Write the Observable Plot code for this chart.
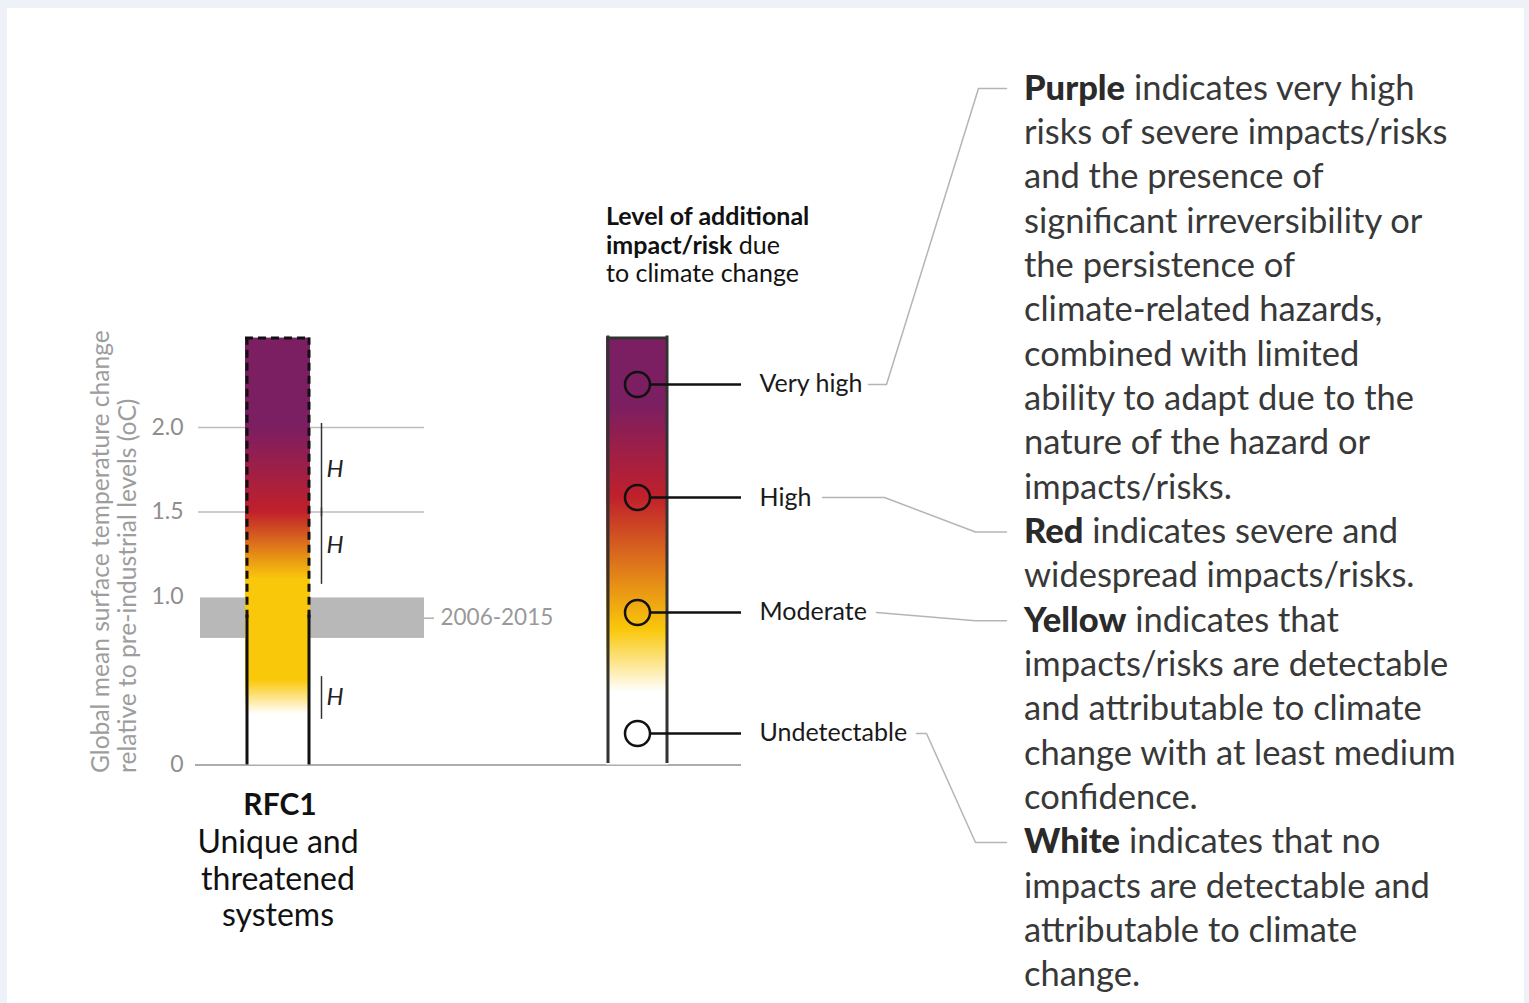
<!DOCTYPE html>
<html>
<head>
<meta charset="utf-8">
<script src="https://cdn.jsdelivr.net/npm/d3@7"></script>
<script src="https://cdn.jsdelivr.net/npm/@observablehq/plot@0.6"></script>
<style>
  html, body { margin: 0; padding: 0; background: #eef2f8; }
  body { width: 1529px; height: 1003px; position: relative; overflow: hidden; font-family: Lato, "Noto Sans", sans-serif; }
  #panel { position: absolute; left: 7px; top: 8px; width: 1517px; height: 1000px; background: #fff; }
  #chart { position: absolute; left: 0; top: 0; }
  #legend-title { position: absolute; left: 606px; top: 201px; font-size: 25px; line-height: 28.5px; color: #111; white-space: nowrap; }
  #notes { position: absolute; left: 1024px; top: 64.5px; font-size: 34.5px; line-height: 44.35px; color: #383838; white-space: nowrap; }
  #notes b { font-weight: 900; color: #2a2a2a; }
  #legend-title b { font-weight: 700; color: #111; }
</style>
</head>
<body>
<div id="panel"></div>
<div id="chart"></div>
<div id="legend-title"></div>
<div id="notes"></div>
<script>
// Temperature axis (°C above pre-industrial)
const tempTicks = [0, 1.0, 1.5, 2.0];
const tickLabels = ["0", "1.0", "1.5", "2.0"];
const gridLevels = [1.5, 2.0];
const barTop = 2.53;

// Observed warming 2006-2015
const periodLabel = "2006-2015";
const periodLow = 0.75;
const periodHigh = 0.99;
const periodMean = 0.87;

// RFC1: risk transitions (start, end, confidence)
const rfcName = "Unique and\nthreatened\nsystems";
const transitionStart = [0.3, 1.1, 1.5];
const transitionEnd = [0.5, 1.5, 2.0];
const transitionConfidence = ["H", "H", "H"];

// Risk level colours, lowest to highest
const riskColors = ["#ffffff", "#fac80b", "#c0202b", "#7c1e62"];

// Key: risk levels and where they sit on the key bar
const levelNames = ["Undetectable", "Moderate", "High", "Very high"];
const levelPos = [0.187, 0.904, 1.585, 2.255];
const keyStopPos = [0.43, 0.8, 1.585, 2.13];

// Explanatory notes with their wrapped lines
const noteLines = [
  ["<b>Purple</b> indicates very high", "risks of severe impacts/risks", "and the presence of",
   "significant irreversibility or", "the persistence of", "climate-related hazards,",
   "combined with limited", "ability to adapt due to the", "nature of the hazard or", "impacts/risks."],
  ["<b>Red</b> indicates severe and", "widespread impacts/risks."],
  ["<b>Yellow</b> indicates that", "impacts/risks are detectable", "and attributable to climate",
   "change with at least medium", "confidence."],
  ["<b>White</b> indicates that no", "impacts are detectable and", "attributable to climate", "change."]
];
// which note each level points to (index into noteLines)
const levelNote = [3, 2, 1, 0];

// ---- layout (pixels) ----
const L = {
  width: 1529, height: 1003,
  y0: 764.5, y2: 427,
  gridX: [198, 424], baseX: [195, 741],
  band: [200, 424], periodTick: [424, 434], periodText: 440,
  tickText: 183,
  rfcBar: [245, 310], rfcSides: [246.5, 308.5],
  bracketX: 321, hX: 326,
  keyBar: [606, 668], keySides: [607.5, 666.5],
  dotX: 637, connector: [650, 741], levelText: 759,
  axisTitleX: 113,
  notesTop: 64.5, noteLineH: 44.35,
  // leader routes: label end x, elbow x, note elbow x per level
  leaderStart: [916, 876, 822, 868],
  leaderElbow: [926, 876, 884, 886],
  leaderNoteElbow: [975, 975, 975, 978],
  leaderEnd: 1006
};

const y = Plot.scale({y: {domain: [0, 2], range: [L.y0, L.y2]}});

const transitions = transitionStart.map((s, i) => ({
  start: s, end: transitionEnd[i], mid: (s + transitionEnd[i]) / 2, conf: transitionConfidence[i]
}));

const levels = levelNames.map((name, i) => ({name, pos: levelPos[i]}));

// first-line index of each note in the stacked text block
const noteStartLine = [];
noteLines.reduce((acc, lines, i) => { noteStartLine[i] = acc; return acc + lines.length; }, 0);
const noteCenterY = i => L.notesTop + 23.5 + noteStartLine[i] * L.noteLineH;

const leaders = levels.flatMap((lv, i) => {
  const ny = y.invert(noteCenterY(levelNote[i]));
  return [
    {level: lv.name, x: L.leaderStart[i], y: lv.pos},
    {level: lv.name, x: L.leaderElbow[i], y: lv.pos},
    {level: lv.name, x: L.leaderNoteElbow[i], y: ny},
    {level: lv.name, x: L.leaderEnd, y: ny}
  ];
});

const dash = "8,5";

const plot = Plot.plot({
  width: L.width,
  height: L.height,
  margin: 0,
  x: {type: "linear", domain: [0, L.width], range: [0, L.width], axis: null},
  y: {domain: [0, 2], range: [L.y0, L.y2], axis: null},
  style: {background: "transparent", fontFamily: "Lato, 'Noto Sans', sans-serif", overflow: "visible"},
  marks: [
    // grid lines and baseline
    Plot.ruleY(gridLevels, {y: d => d, x1: L.gridX[0], x2: L.gridX[1], stroke: "#bdbdbd", strokeWidth: 1.5}),
    Plot.ruleY([0], {y: d => d, x1: L.baseX[0], x2: L.baseX[1], stroke: "#adadad", strokeWidth: 2}),
    // observed warming band
    Plot.rect([{lo: periodLow, hi: periodHigh}], {x1: L.band[0], x2: L.band[1], y1: "lo", y2: "hi", fill: "#b8b8b8"}),
    Plot.ruleY([periodMean], {y: d => d, x1: L.periodTick[0], x2: L.periodTick[1], stroke: "#b0b0b0", strokeWidth: 1.5}),
    Plot.text([periodLabel], {x: L.periodText, y: periodMean, text: d => d, textAnchor: "start", fill: "#999", fontSize: 22.5}),
    // tick labels
    Plot.text(tempTicks, {x: L.tickText, y: d => d, text: (d, i) => tickLabels[i], textAnchor: "end", fill: "#8e8e8e", fontSize: 23}),
    // RFC1 bar
    Plot.rect([barTop], {x1: L.rfcBar[0], x2: L.rfcBar[1], y1: 0, y2: d => d, fill: "url(#rfc1-gradient)"}),
    Plot.ruleX(L.rfcSides, {x: d => d, y1: 0, y2: periodMean, insetBottom: 3, stroke: "#111", strokeWidth: 3}),
    Plot.ruleX(L.rfcSides, {x: d => d, y1: periodMean, y2: barTop, stroke: "#111", strokeWidth: 3, strokeDasharray: dash}),
    Plot.ruleY([barTop], {y: d => d, x1: L.rfcBar[0], x2: L.rfcBar[1], stroke: "#111", strokeWidth: 3, strokeDasharray: dash}),
    // confidence brackets
    Plot.ruleX(transitions, {x: L.bracketX, y1: "start", y2: "end", insetTop: 5, insetBottom: 4, stroke: "#333", strokeWidth: 1.5}),
    Plot.text(transitions, {x: L.hX, y: "mid", text: "conf", textAnchor: "start", fontStyle: "italic", fontSize: 24, fill: "#222"}),
    // key bar
    Plot.rect([barTop], {x1: L.keyBar[0], x2: L.keyBar[1], y1: 0, y2: d => d, fill: "url(#key-gradient)"}),
    Plot.ruleX(L.keySides, {x: d => d, y1: 0, y2: barTop, insetBottom: 2, insetTop: -1.5, stroke: "#333", strokeWidth: 3}),
    Plot.ruleY([barTop], {y: d => d, x1: L.keyBar[0], x2: L.keyBar[1], stroke: "#333", strokeWidth: 3}),
    Plot.ruleY(levels, {y: "pos", x1: L.connector[0], x2: L.connector[1], stroke: "#111", strokeWidth: 2.5}),
    Plot.dot(levels, {x: L.dotX, y: "pos", r: 12.5, stroke: "#111", strokeWidth: 2.5, fill: "none"}),
    Plot.text(levels, {x: L.levelText, y: "pos", text: "name", textAnchor: "start", fontSize: 25, fill: "#1a1a1a"}),
    // leaders to notes
    Plot.line(leaders, {x: "x", y: "y", z: "level", stroke: "#b5b5b5", strokeWidth: 1.5}),
    // axis title
    Plot.text(["Global mean surface temperature change\nrelative to pre-industrial levels (oC)"], {
      x: L.axisTitleX, y: 0, dy: 8, text: d => d, rotate: -90, textAnchor: "start", lineAnchor: "middle",
      lineHeight: 1.1, fill: "#9d9d9d", fontSize: 24.6
    }),
    // RFC1 label
    Plot.text(["RFC1"], {x: (L.rfcBar[0] + L.rfcBar[1]) / 2 + 2, y: 0, dy: 40, text: d => d, fontWeight: "bold", fontSize: 30, fill: "#111"}),
    Plot.text([rfcName], {x: (L.rfcBar[0] + L.rfcBar[1]) / 2, y: 0, dy: 113, text: d => d, lineAnchor: "middle", lineHeight: 1.13, fontSize: 32, fill: "#111"})
  ]
});

// gradients for the two bars, positioned through the y scale
function addGradient(svg, id, stops) {
  const ns = "http://www.w3.org/2000/svg";
  const ys = plot.scale("y");
  let defs = svg.querySelector("defs");
  if (!defs) { defs = document.createElementNS(ns, "defs"); svg.insertBefore(defs, svg.firstChild); }
  const g = document.createElementNS(ns, "linearGradient");
  g.setAttribute("id", id);
  g.setAttribute("gradientUnits", "userSpaceOnUse");
  g.setAttribute("x1", 0); g.setAttribute("x2", 0);
  g.setAttribute("y1", ys.apply(0)); g.setAttribute("y2", ys.apply(barTop));
  for (const s of stops) {
    const st = document.createElementNS(ns, "stop");
    st.setAttribute("offset", s.pos / barTop);
    st.setAttribute("stop-color", s.color);
    g.appendChild(st);
  }
  defs.appendChild(g);
}

const rfcStops = transitions.flatMap((t, i) => [
  {pos: t.start, color: riskColors[i]},
  {pos: t.end, color: riskColors[i + 1]}
]);
const keyStops = keyStopPos.map((p, i) => ({pos: p, color: riskColors[i]}));

addGradient(plot, "rfc1-gradient", rfcStops);
addGradient(plot, "key-gradient", keyStops);

document.getElementById("chart").appendChild(plot);

document.getElementById("legend-title").innerHTML =
  "<b>Level of additional</b><br><b>impact/risk</b> due<br>to climate change";
document.getElementById("notes").innerHTML = noteLines.map(lines => lines.join("<br>")).join("<br>");
</script>
</body>
</html>
